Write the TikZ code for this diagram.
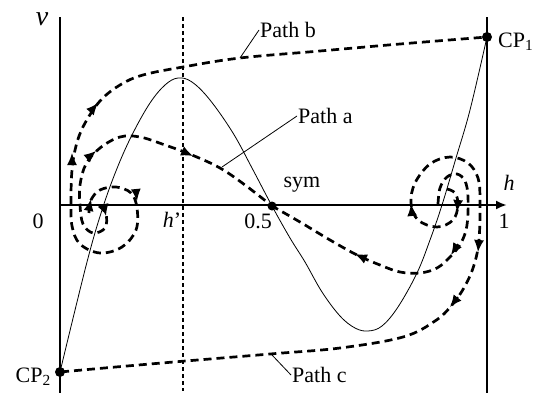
\documentclass[tikz,border=0pt]{standalone}
\usepackage{fontspec}
\setmainfont{Liberation Serif}
\usetikzlibrary{arrows.meta}
\tikzset{
  wall/.style={line width=2.2pt},
  traj/.style={line width=2.7pt, dash pattern=on 8pt off 5pt},
  nullc/.style={line width=0.8pt},
  guide/.style={line width=1.2pt, dash pattern=on 4pt off 3pt},
  leader/.style={line width=0.8pt},
  tipsty/.style={line width=1.5pt, -{Latex[length=12pt,width=10pt]}},
  dotsty/.style={circle, fill=black, inner sep=0pt, minimum size=10pt},
  lbl/.style={font=\fontsize{22}{24}\selectfont, inner sep=1pt},
}
\begin{document}
\begin{tikzpicture}[x=1pt,y=-1pt]
\useasboundingbox (0,0) rectangle (541,399);
% walls and axis
\draw[wall] (60,17) -- (60,393);
\draw[wall] (487,17) -- (487,393);
\draw[wall, -{Latex[length=11pt,width=9pt]}] (60,205) -- (507,205);
\draw[guide] (183,17) -- (183,391);
% null curve
\draw[nullc] plot[smooth, tension=0.6] coordinates {(60,372) (87,262) (103,207) (118,166) (133,133) (150,103) (165,85) (178,78) (192,82) (210,100) (233,133) (252,168) (272,206) (290,238) (305,262) (322,292) (340,316) (355,328) (368,331) (382,326) (398,307) (417,273) (430,240) (442,205) (456,158) (470,110) (487,37)};
% path b (left spiral to CP1)
\draw[traj] plot[smooth, tension=0.6] coordinates {(89,213) (91,200) (100,190) (116,187) (131,193) (137,208) (136,230) (122,247) (100,253) (80,244) (72,226) (71,200) (72,170) (76,146) (84,125) (100,101) (120,85) (143,75) (183,67) (240,58) (320,51) (400,44) (487,37)};
% path a upper (left spiral to sym)
\draw[traj] plot[smooth, tension=0.6] coordinates {(99,206) (106,214) (105,228) (93,233) (83,224) (80,205) (80,185) (86,164) (100,148) (120,137) (140,137) (165,145) (192,155) (220,168) (245,185) (272,206)};
% path a lower (right spiral to sym)
\draw[traj] plot[smooth, tension=0.6] coordinates {(438,204) (440,188) (447,177) (457,174) (465,181) (468,197) (467,225) (461,243) (450,257) (437,268) (420,273) (400,272) (380,265) (357,255) (330,240) (300,222) (272,206)};
% path c (right spiral to CP2)
\draw[traj] plot[smooth, tension=0.6] coordinates {(447,189) (455,193) (458,205) (453,220) (437,227) (418,220) (411,203) (415,183) (430,164) (450,157) (468,163) (478,178) (480,200) (479,240) (474,265) (465,286) (452,305) (435,321) (403,337) (340,348) (270,354) (150,364) (60,372)};
% arrow tips
\draw[tipsty] (72,164) -- (72,153);
\draw[tipsty] (91,111) -- (98,103);
\draw[tipsty] (136,191) -- (137,201);
\draw[tipsty] (89,209) -- (91,199);
\draw[tipsty] (90,156) -- (96,151);
\draw[tipsty] (182,151) -- (193,156);
\draw[tipsty] (104,206) -- (106,216);
\draw[tipsty] (458,244) -- (451,255);
\draw[tipsty] (366,259) -- (355,254);
\draw[tipsty] (479,240) -- (478,252);
\draw[tipsty] (458,297) -- (450,307);
\draw[tipsty] (412,214) -- (411,204);
\draw[tipsty] (458,201) -- (457,212);
% points
\node[dotsty] (cp1) at (487,37) {};
\node[dotsty] (cp2) at (60,372) {};
\node[dotsty, minimum size=9pt] (sym) at (272,206) {};
% labels
\node[lbl, font=\fontsize{28}{30}\selectfont\itshape] (nu) at (42,19) {ν};
\node[lbl, anchor=west] (cp1l) at (497,42) {CP\textsubscript{1}};
\node[lbl, anchor=east] (cp2l) at (52,377) {CP\textsubscript{2}};
\node[lbl] (zero) at (38,221) {0};
\node[lbl] (hp) at (172,220) {\textit{h}'};
\node[lbl] (half) at (258,221) {0.5};
\node[lbl] (one) at (504,221) {1};
\node[lbl] (hl) at (509,183) {\textit{h}};
\node[lbl] (syml) at (302,185) {sym};
\node[lbl, anchor=west] (pb) at (259,30) {Path b};
\node[lbl, anchor=west] (pa) at (297,116) {Path a};
\node[lbl, anchor=west] (pc) at (291,375) {Path c};
% leaders
\coordinate (lb) at (240,58);
\coordinate (la) at (222,167);
\coordinate (lc) at (272,355);
\draw[leader] (lb) -- (pb.west);
\draw[leader] (la) -- (pa.west);
\draw[leader] (lc) -- (pc.west);
\end{tikzpicture}
\end{document}
